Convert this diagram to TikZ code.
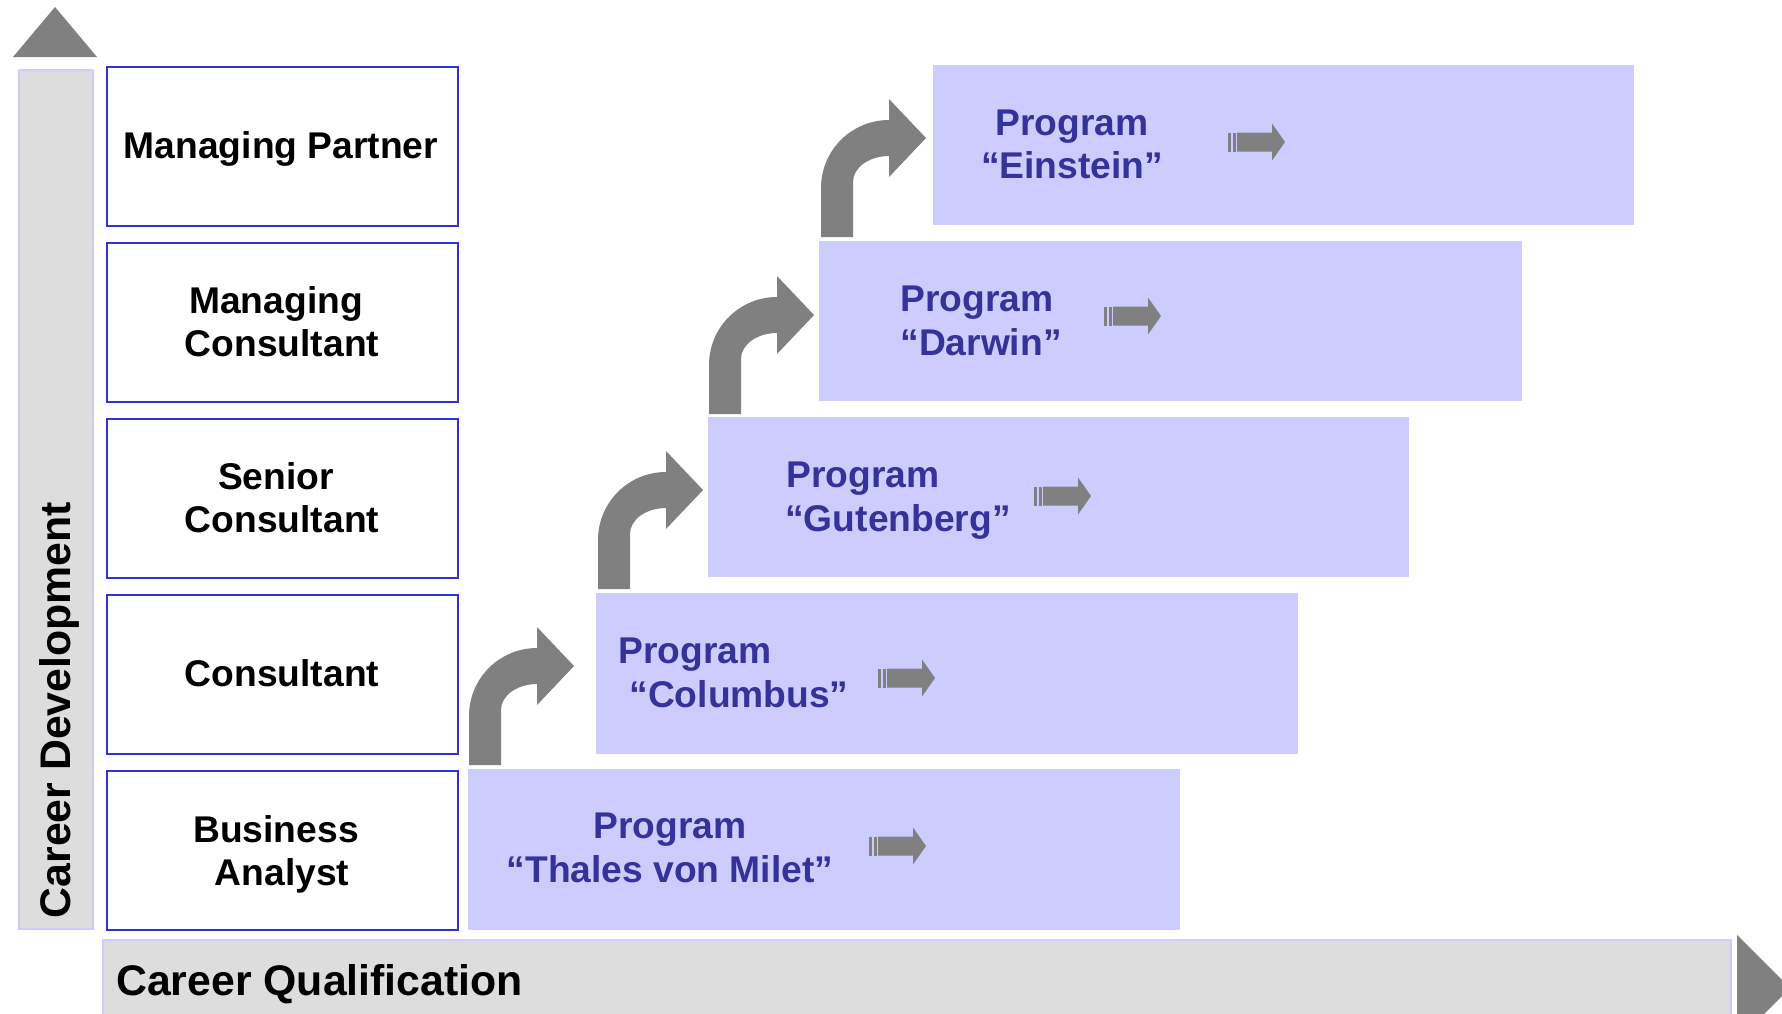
\documentclass[tikz,border=0pt]{standalone}
\usepackage{fontspec}
\setmainfont{Liberation Sans}
\definecolor{boxblue}{HTML}{3333CC}
\definecolor{progfill}{HTML}{CCCCFF}
\definecolor{progtext}{HTML}{333399}
\definecolor{arrgray}{HTML}{808080}
\definecolor{barfill}{HTML}{DDDDDD}
\definecolor{barline}{HTML}{CCCCFF}
\newcommand\BentArrow[3]{% #1 stem left x, #2 stem bottom y, #3 head centre y
  \fill[arrgray] (#1,#2) -- (#1,#3+50)
    .. controls (#1,#3+12.4) and (#1+30.4,#3-18) .. (#1+68,#3-18)
    -- (#1+68,#3-39) -- (#1+105,#3) -- (#1+68,#3+39) -- (#1+68,#3+18)
    .. controls (#1+48.1,#3+18) and (#1+32,#3+29.6) .. (#1+32,#3+44)
    -- (#1+32,#2) -- cycle;}
\newcommand\StripeArrow[2]{% #1 left x, #2 centre y
  \fill[arrgray] (#1,#2-9.5) rectangle (#1+3,#2+9.5);
  \fill[arrgray] (#1+4.5,#2-9.5) rectangle (#1+7.5,#2+9.5);
  \fill[arrgray] (#1+9,#2-9.5) -- (#1+44,#2-9.5) -- (#1+44,#2-18.5) -- (#1+57,#2)
    -- (#1+44,#2+18.5) -- (#1+44,#2+9.5) -- (#1+9,#2+9.5) -- cycle;}
\begin{document}
\begin{tikzpicture}[x=1pt,y=-1pt,
  levelbox/.style={draw=boxblue, line width=2.2pt, fill=white, inner sep=0pt,
    anchor=north west, minimum width=351pt, minimum height=159pt},
  progbox/.style={fill=progfill, draw=none, inner sep=0pt, anchor=north west,
    minimum height=160pt},
  barbox/.style={fill=barfill, draw=barline, line width=2pt, inner sep=0pt,
    anchor=north west},
  lbl/.style={font=\fontsize{37.2pt}{43pt}\selectfont\bfseries, inner sep=0pt, anchor=base},
  prog/.style={lbl, text=progtext},
  axislbl/.style={font=\fontsize{42.8pt}{50pt}\selectfont\bfseries, inner sep=0pt}]
\clip (0,0) rectangle (1782,1013);
\fill[white] (0,0) rectangle (1782,1013);

% axes
\node[barbox, minimum width=74pt, minimum height=859pt] (dbar) at (18,69) {};
\fill[arrgray] (13,57) -- (97,57) -- (55,7) -- cycle;
\node[barbox, minimum width=1628pt, minimum height=100pt] (qbar) at (102,939) {};
\fill[arrgray] (1737,935) -- (1790,988) -- (1737,1041) -- cycle;
\node[axislbl, rotate=90, anchor=base] (cd) at (70,710) {Career Development};
\node[axislbl, anchor=base west] (cq) at (116,995) {Career Qualification};

% level boxes
\node[levelbox] (l5) at (106,66) {};
\node[levelbox] (l4) at (106,242) {};
\node[levelbox] (l3) at (106,418) {};
\node[levelbox] (l2) at (106,594) {};
\node[levelbox] (l1) at (106,770) {};

\node[lbl] (t5) at (281,158) {Managing Partner};
\node[lbl] (t4a) at (276,313) {Managing};
\node[lbl] (t4b) at (282,356) {Consultant};
\node[lbl] (t3a) at (276,489) {Senior};
\node[lbl] (t3b) at (282,532) {Consultant};
\node[lbl] (t2) at (282,686) {Consultant};
\node[lbl] (t1a) at (276,842) {Business};
\node[lbl] (t1b) at (282,885) {Analyst};

% program boxes
\node[progbox, minimum width=712pt, minimum height=161pt] (p1) at (468,769) {};
\node[progbox, minimum width=702pt, minimum height=161pt] (p2) at (596,593) {};
\node[progbox, minimum width=701pt] (p3) at (708,417) {};
\node[progbox, minimum width=703pt] (p4) at (819,241) {};
\node[progbox, minimum width=701pt] (p5) at (933,65) {};

\node[prog] (q1a) at (670,838) {Program};
\node[prog] (q1b) at (670,882) {“Thales von Milet”};
\node[prog] (q2a) at (695,663) {Program};
\node[prog] (q2b) at (739,707) {“Columbus”};
\node[prog] (q3a) at (863,487) {Program};
\node[prog] (q3b) at (898,531) {“Gutenberg”};
\node[prog] (q4a) at (977,311) {Program};
\node[prog] (q4b) at (981,355) {“Darwin”};
\node[prog] (q5a) at (1072,135) {Program};
\node[prog] (q5b) at (1072,178) {“Einstein”};

% bent arrows between levels
\BentArrow{469}{765}{666}
\BentArrow{598}{589}{490}
\BentArrow{709}{414}{315}
\BentArrow{821}{237}{138}

% small striped arrows
\StripeArrow{869}{846}
\StripeArrow{878}{678}
\StripeArrow{1034}{496}
\StripeArrow{1104}{316}
\StripeArrow{1228}{142}
\end{tikzpicture}
\end{document}
